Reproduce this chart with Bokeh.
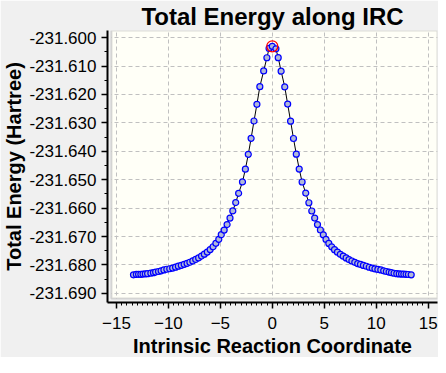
from bokeh.plotting import figure
from bokeh.models import Range1d, FixedTicker, PrintfTickFormatter, BoxAnnotation, Title
from bokeh.embed import file_html
from bokeh.resources import INLINE

# ---- data ----
irc_x = [
    -13.36, -13.08, -12.87, -12.65, -12.44, -12.22, -12.00, -11.69, -11.44, -11.23,
    -10.95, -10.70, -10.43, -10.15, -9.87, -9.59, -9.31, -9.04, -8.76, -8.48,
    -8.20, -7.93, -7.65, -7.37, -7.09, -6.81, -6.54, -6.26, -5.98, -5.70,
    -5.43, -5.15, -4.91, -4.63, -4.35, -4.07, -3.80, -3.52, -3.24, -2.87,
    -2.59, -2.31, -2.04, -1.76, -1.48, -1.20, -0.83, -0.52, -0.31,
    0.00,
    0.35, 0.57, 0.85, 1.20, 1.48, 1.76, 2.04, 2.31, 2.59, 2.87,
    3.22, 3.52, 3.80, 4.08, 4.35, 4.63, 4.91, 5.17, 5.44, 5.72,
    5.99, 6.27, 6.55, 6.83, 7.11, 7.38, 7.66, 7.94, 8.22, 8.49,
    8.77, 9.05, 9.33, 9.61, 9.88, 10.16, 10.44, 10.72, 10.98, 11.24,
    11.47, 11.72, 11.98, 12.22, 12.44, 12.66, 12.88, 13.10, 13.37,
]
energy = [
    -231.68347, -231.68331, -231.68328, -231.68327, -231.68321, -231.68314, -231.68305, -231.68288, -231.68272, -231.68249,
    -231.68230, -231.68207, -231.68174, -231.68151, -231.68132, -231.68109, -231.68076, -231.68043, -231.68011, -231.67978,
    -231.67946, -231.67903, -231.67858, -231.67806, -231.67750, -231.67685, -231.67620, -231.67545, -231.67457, -231.67359,
    -231.67238, -231.67098, -231.66935, -231.66772, -231.66577, -231.66348, -231.66097, -231.65804, -231.65478, -231.65077,
    -231.64630, -231.64108, -231.63544, -231.62934, -231.62348, -231.61728, -231.61174, -231.60708, -231.60381,
    -231.60306,
    -231.60395, -231.60705, -231.61180, -231.61735, -231.62340, -231.62940, -231.63550, -231.64100, -231.64625, -231.65080,
    -231.65470, -231.65810, -231.66100, -231.66350, -231.66580, -231.66770, -231.66940, -231.67100, -231.67240, -231.67360,
    -231.67460, -231.67550, -231.67625, -231.67690, -231.67750, -231.67810, -231.67860, -231.67905, -231.67950, -231.67980,
    -231.68015, -231.68045, -231.68080, -231.68110, -231.68135, -231.68155, -231.68175, -231.68205, -231.68230, -231.68250,
    -231.68270, -231.68290, -231.68305, -231.68315, -231.68320, -231.68325, -231.68330, -231.68335, -231.68345,
]
ts_x = [0.00]
ts_energy = [-231.60306]

x_ticks = [-15, -10, -5, 0, 5, 10, 15]
x_minor_ticks = [v / 2 for v in range(-30, 31)]
y_ticks = [-231.690, -231.680, -231.670, -231.660, -231.650, -231.640,
           -231.630, -231.620, -231.610, -231.600]
y_minor_ticks = [-231.690 + 0.005 * i for i in range(19)]

title_text = "Total Energy along IRC"
x_label = "Intrinsic Reaction Coordinate"
y_label = "Total Energy (Hartree)"

# ---- layout / style ----
FONT = "Liberation Sans"
PAGE_BG = "#F0F0F0"
PANEL_BG = "#FFFFF7"
X_START, X_END = -15.86, 15.90
Y_START, Y_END = -231.6932, -231.5975
INNER_LEFT = -15.48
INNER_BOTTOM = -231.6918

p = figure(width=438, height=357, output_backend="svg", toolbar_location=None,
           x_range=Range1d(X_START, X_END), y_range=Range1d(Y_START, Y_END),
           min_border_left=0, min_border_right=1, min_border_top=0, min_border_bottom=0)

p.background_fill_color = PAGE_BG
p.border_fill_color = PAGE_BG
p.outline_line_color = None

p.title.text = title_text
p.title.align = "center"
p.title.text_font = FONT
p.title.text_font_size = "24px"
p.title.text_font_style = "bold"
p.title.text_color = "black"
p.title.standoff = 1

p.add_layout(BoxAnnotation(left=INNER_LEFT, bottom=INNER_BOTTOM, fill_color=PANEL_BG,
                           fill_alpha=1.0, line_color=None, level="image"))

for ax, ticks, minors in ((p.xaxis[0], x_ticks, x_minor_ticks), (p.yaxis[0], y_ticks, y_minor_ticks)):
    ax.ticker = FixedTicker(ticks=ticks, minor_ticks=minors)
    ax.axis_line_color = "black"
    ax.axis_line_width = 2
    ax.major_tick_line_color = "black"
    ax.major_tick_line_width = 1.5
    ax.minor_tick_line_color = "black"
    ax.minor_tick_line_width = 1
    ax.major_tick_out = 6
    ax.major_tick_in = 0
    ax.minor_tick_out = 3
    ax.minor_tick_in = 0
    ax.major_label_text_font = FONT
    ax.major_label_text_font_size = "17px"
    ax.major_label_text_color = "black"
    ax.axis_label_text_font = FONT
    ax.axis_label_text_font_size = "20px"
    ax.axis_label_text_font_style = "bold"
    ax.axis_label_text_color = "black"

p.yaxis.axis_label = y_label
p.yaxis.formatter = PrintfTickFormatter(format="%.3f")
p.xaxis.major_label_standoff = 8
p.yaxis.major_label_standoff = 5
p.yaxis.axis_label_standoff = 1

p.add_layout(Title(text=x_label, align="center", text_font=FONT, text_font_size="20px",
                   text_font_style="bold", text_color="black", standoff=2), "below")

for g in (p.xgrid[0], p.ygrid[0]):
    g.grid_line_color = "#C0C0C0"
    g.grid_line_width = 1
    g.grid_line_dash = "4 3"

# gap strips between the axes and the panel (hide grid lines there)
p.add_layout(BoxAnnotation(right=INNER_LEFT, fill_color=PAGE_BG, fill_alpha=1.0,
                           line_color=None, level="glyph"))
p.add_layout(BoxAnnotation(top=INNER_BOTTOM, fill_color=PAGE_BG, fill_alpha=1.0,
                           line_color=None, level="glyph"))
# panel border
p.add_layout(BoxAnnotation(left=INNER_LEFT, bottom=INNER_BOTTOM, fill_alpha=0,
                           line_color="#8A8A8A", line_width=2, level="annotation"))

p.line(irc_x, energy, line_color="black", line_width=1)
p.scatter(irc_x, energy, size=6, marker="circle", fill_color="#B0B8D8",
          line_color="#0000FF", line_width=1.2)
p.scatter(ts_x, ts_energy, size=11, marker="circle", fill_color=None,
          line_color="#FF0000", line_width=1.3)

open("out.html", "w").write(file_html(p, INLINE))
